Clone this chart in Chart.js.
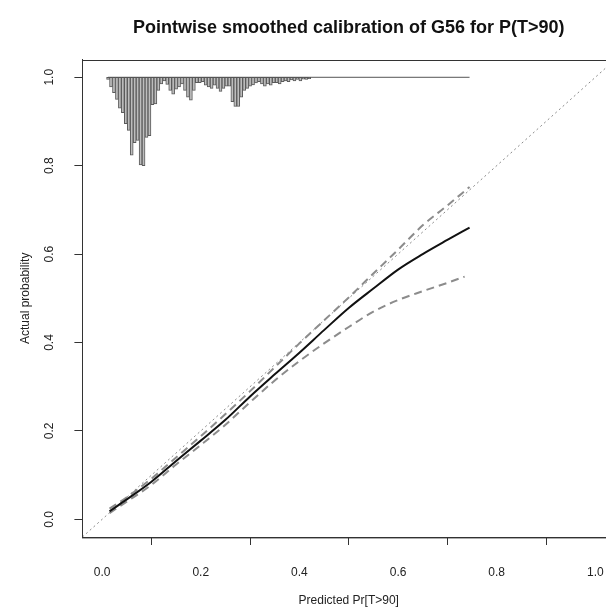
<!DOCTYPE html>
<html>
<head>
<meta charset="utf-8">
<script src="https://cdn.jsdelivr.net/npm/chart.js@4/dist/chart.umd.min.js"></script>
<style>
  html, body { margin: 0; padding: 0; background: #fff; overflow: hidden; }
  #wrap { width: 624px; height: 609px; position: relative; }
</style>
</head>
<body>
<div id="wrap"><canvas id="calChart"></canvas></div>
<script>
// axis ticks
const xTicks = [0, 0.2, 0.4, 0.6, 0.8, 1.0];
const yTicks = [0, 0.2, 0.4, 0.6, 0.8, 1.0];

// smoothed calibration curve and pointwise bands
const predX = [0.015, 0.05, 0.1, 0.15, 0.2, 0.25, 0.3, 0.35, 0.4, 0.45, 0.5, 0.55, 0.6, 0.65, 0.7, 0.745];
const actualY = [0.018, 0.045, 0.085, 0.132, 0.178, 0.225, 0.278, 0.328, 0.377, 0.428, 0.478, 0.522, 0.565, 0.600, 0.632, 0.660];
const upperY = [0.024, 0.05, 0.092, 0.14, 0.188, 0.238, 0.29, 0.344, 0.398, 0.45, 0.502, 0.556, 0.61, 0.665, 0.71, 0.752];
const lowerX = [0.015, 0.05, 0.1, 0.15, 0.2, 0.25, 0.3, 0.35, 0.4, 0.45, 0.5, 0.55, 0.6, 0.65, 0.7, 0.735];
const lowerY = [0.014, 0.04, 0.078, 0.124, 0.168, 0.214, 0.265, 0.314, 0.358, 0.398, 0.435, 0.47, 0.496, 0.516, 0.535, 0.549];

// distribution of predicted values (spike histogram hanging from 1.0)
const histX = [0.012,0.018,0.024,0.030,0.036,0.042,0.048,0.054,0.060,0.066,0.072,0.078,0.084,0.090,0.096,0.102,0.108,0.114,0.120,0.126,
  0.132,0.138,0.144,0.150,0.156,0.162,0.168,0.174,0.180,0.186,0.192,0.198,0.204,0.210,0.216,0.222,0.228,0.234,0.240,0.246,
  0.252,0.258,0.264,0.270,0.276,0.282,0.288,0.294,0.300,0.306,0.312,0.318,0.324,0.330,0.336,0.342,0.348,0.354,0.360,0.366,
  0.372,0.378,0.384,0.390,0.396,0.402,0.408,0.414,0.420];
const histDepth = [0.005,0.022,0.035,0.05,0.07,0.08,0.105,0.12,0.176,0.148,0.143,0.198,0.2,0.136,0.132,0.062,0.06,0.03,0.015,0.008,
  0.016,0.03,0.038,0.027,0.022,0.015,0.03,0.045,0.052,0.03,0.012,0.012,0.01,0.018,0.022,0.025,0.018,0.025,0.032,0.025,
  0.02,0.02,0.055,0.066,0.066,0.045,0.03,0.025,0.02,0.017,0.013,0.01,0.015,0.02,0.015,0.018,0.012,0.012,0.015,0.01,
  0.008,0.01,0.006,0.008,0.005,0.008,0.004,0.005,0.003];
const histRange = [0.012, 0.745];

const FONT = "'Liberation Sans', Arial, Helvetica, sans-serif";

const pts = (xs, ys) => xs.map((x, i) => ({ x: x, y: ys[i] }));

// box around plot + rotated y tick labels (R style)
const rStyle = {
  id: 'rStyle',
  afterDraw(chart) {
    const { ctx, chartArea: a, scales } = chart;
    ctx.save();
    ctx.strokeStyle = '#333';
    ctx.lineWidth = 1;
    ctx.strokeRect(Math.round(a.left) + 0.5, Math.round(a.top) + 0.5, a.right - a.left, a.bottom - a.top);
    ctx.fillStyle = '#222';
    ctx.font = '12px ' + FONT;
    ctx.textAlign = 'center';
    ctx.textBaseline = 'middle';
    yTicks.forEach(v => {
      const py = scales.y.getPixelForValue(v);
      ctx.save();
      ctx.translate(50, py);
      ctx.rotate(-Math.PI / 2);
      ctx.fillText(v.toFixed(1), 0, 0);
      ctx.restore();
    });
    ctx.restore();
  }
};

new Chart(document.getElementById('calChart'), {
  type: 'bar',
  data: {
    datasets: [
      {
        type: 'bar',
        label: 'Predicted distribution',
        data: histX.map((x, i) => ({ x: x, y: [1 - histDepth[i], 1] })),
        backgroundColor: '#bdbdbd',
        borderColor: '#5a5a5a',
        borderWidth: 1,
        borderSkipped: false,
        barPercentage: 1,
        categoryPercentage: 1,
        order: 5
      },
      {
        type: 'line',
        label: 'baseline',
        data: pts(histRange, [1, 1]),
        borderColor: '#555',
        borderWidth: 1,
        pointRadius: 0,
        order: 4
      },
      {
        type: 'line',
        label: 'Ideal',
        data: pts([-0.04, 1.04], [-0.04, 1.04]),
        borderColor: '#8a8a8a',
        borderWidth: 1,
        borderDash: [2, 3],
        pointRadius: 0,
        order: 3
      },
      {
        type: 'line',
        label: 'Upper',
        data: pts(predX, upperY),
        borderColor: '#8c8c8c',
        borderWidth: 2,
        borderDash: [8, 5],
        pointRadius: 0,
        cubicInterpolationMode: 'monotone',
        order: 2
      },
      {
        type: 'line',
        label: 'Lower',
        data: pts(lowerX, lowerY),
        borderColor: '#8c8c8c',
        borderWidth: 2,
        borderDash: [8, 5],
        pointRadius: 0,
        cubicInterpolationMode: 'monotone',
        order: 2
      },
      {
        type: 'line',
        label: 'Smoothed',
        data: pts(predX, actualY),
        borderColor: '#111',
        borderWidth: 2,
        pointRadius: 0,
        cubicInterpolationMode: 'monotone',
        order: 1
      }
    ]
  },
  options: {
    responsive: true,
    maintainAspectRatio: false,
    animation: false,
    layout: { padding: { left: 8, right: 7, top: 0, bottom: 0 } },
    plugins: {
      legend: { display: false },
      tooltip: { enabled: false },
      title: {
        display: true,
        fullSize: false,
        text: 'Pointwise smoothed calibration of G56 for P(T>90)',
        color: '#111',
        font: { family: FONT, size: 18, weight: 'bold' },
        padding: { top: 17, bottom: 21 }
      }
    },
    scales: {
      x: {
        type: 'linear',
        min: -0.04,
        max: 1.04,
        offset: false,
        afterBuildTicks: s => { s.ticks = xTicks.map(v => ({ value: v })); },
        afterFit: s => { s.height = 72; },
        grid: { drawOnChartArea: false, drawTicks: true, tickLength: 8, color: '#333' },
        border: { display: true, color: '#333' },
        ticks: {
          color: '#222',
          padding: 20,
          font: { family: FONT, size: 12 },
          callback: v => Number(v).toFixed(1),
          maxRotation: 0
        },
        title: {
          display: true,
          text: 'Predicted Pr[T>90]',
          color: '#222',
          font: { family: FONT, size: 12 },
          padding: { top: 0, bottom: 1 }
        }
      },
      y: {
        type: 'linear',
        min: -0.04,
        max: 1.04,
        afterBuildTicks: s => { s.ticks = yTicks.map(v => ({ value: v })); },
        grid: { drawOnChartArea: false, drawTicks: true, tickLength: 8, color: '#333' },
        border: { display: true, color: '#333' },
        ticks: { display: false },
        title: {
          display: true,
          text: 'Actual probability',
          color: '#222',
          font: { family: FONT, size: 12 },
          padding: { top: 10, bottom: 42 }
        }
      }
    }
  },
  plugins: [rStyle]
});
</script>
</body>
</html>
